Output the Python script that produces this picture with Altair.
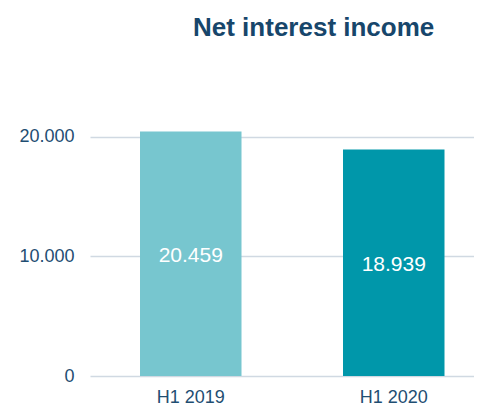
import altair as alt
import pandas as pd

periods = ["H1 2019", "H1 2020"]
values = [20459, 18939]
labels = ["20.459", "18.939"]
colors = ["#77C6CF", "#0097AA"]

df = pd.DataFrame({"period": periods, "value": values, "label": labels,
                   "half": [v / 2 for v in values]})

x = alt.X("period:N", sort=periods, title=None,
          scale=alt.Scale(paddingInner=0.5, paddingOuter=0.1958, align=0.629),
          axis=alt.Axis(labelAngle=0, ticks=False, domain=False, labelPadding=12,
                        labelFontSize=18, labelColor="#1F4E72", labelFont="Liberation Sans"))

bars = alt.Chart(df).mark_bar().encode(
    x=x,
    y=alt.Y("value:Q", title=None,
            scale=alt.Scale(domain=[0, 22000], nice=False),
            axis=alt.Axis(values=[0, 10000, 20000], ticks=False, domain=False,
                          labelPadding=16, labelFontSize=18, labelColor="#1F4E72",
                          labelFont="Liberation Sans",
                          labelExpr="replace(format(datum.value, ','), ',', '.')",
                          gridColor="#D0D9E2", gridWidth=1.5)),
    color=alt.Color("period:N", scale=alt.Scale(domain=periods, range=colors), legend=None),
)

text = alt.Chart(df).mark_text(color="white", fontSize=21, font="Liberation Sans",
                               baseline="middle", dy=2).encode(
    x=alt.X("period:N", sort=periods),
    y=alt.Y("half:Q"),
    text="label:N",
)

chart = alt.layer(bars, text).properties(
    width=384, height=263,
    title=alt.TitleParams("Net interest income", anchor="start", frame="group", dx=103,
                          fontSize=26, fontWeight="bold", color="#17466B",
                          font="Liberation Sans", offset=72),
    autosize=alt.AutoSizeParams(type="none"),
    padding={"left": 82, "top": 105, "right": 0, "bottom": 30},
).configure_view(stroke=None)

chart.save("out.html", embed_options={"renderer": "svg", "actions": False})
